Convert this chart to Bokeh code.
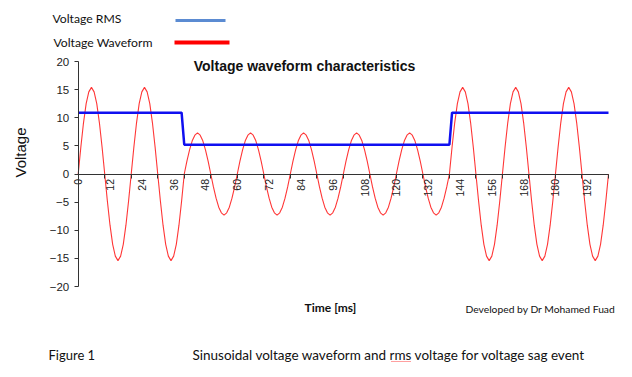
import math
from bokeh.plotting import figure
from bokeh.models import (Range1d, LinearAxis, FixedTicker, Label, Arrow,
                          ColumnDataSource)
from bokeh.embed import file_html
from bokeh.resources import INLINE

# ---------------- data ----------------
# sampling instants of the waveform, 1 ms apart, 0..200 ms
time_ms = list(range(0, 201))
# instantaneous voltage, one row per 10 ms half cycle
voltage_waveform = (
    [0.0, 4.8, 9.1, 12.5, 14.6, 15.4, 14.6, 12.5, 9.1, 4.8] +
    [0.0, -4.8, -9.1, -12.5, -14.6, -15.4, -14.6, -12.5, -9.1, -4.8] +
    [0.0, 4.8, 9.1, 12.5, 14.6, 15.4, 14.6, 12.5, 9.1, 4.8] +
    [0.0, -4.8, -9.1, -12.5, -14.6, -15.4, -14.6, -12.5, -9.1, -4.8] +
    [0.0, 2.3, 4.3, 5.9, 6.9, 7.3, 6.9, 5.9, 4.3, 2.3] +
    [0.0, -2.3, -4.3, -5.9, -6.9, -7.3, -6.9, -5.9, -4.3, -2.3] +
    [0.0, 2.3, 4.3, 5.9, 6.9, 7.3, 6.9, 5.9, 4.3, 2.3] +
    [0.0, -2.3, -4.3, -5.9, -6.9, -7.3, -6.9, -5.9, -4.3, -2.3] +
    [0.0, 2.3, 4.3, 5.9, 6.9, 7.3, 6.9, 5.9, 4.3, 2.3] +
    [0.0, -2.3, -4.3, -5.9, -6.9, -7.3, -6.9, -5.9, -4.3, -2.3] +
    [0.0, 2.3, 4.3, 5.9, 6.9, 7.3, 6.9, 5.9, 4.3, 2.3] +
    [0.0, -2.3, -4.3, -5.9, -6.9, -7.3, -6.9, -5.9, -4.3, -2.3] +
    [0.0, 2.3, 4.3, 5.9, 6.9, 7.3, 6.9, 5.9, 4.3, 2.3] +
    [0.0, -2.3, -4.3, -5.9, -6.9, -7.3, -6.9, -5.9, -4.3, -2.3] +
    [0.0, 4.8, 9.1, 12.5, 14.6, 15.4, 14.6, 12.5, 9.1, 4.8] +
    [0.0, -4.8, -9.1, -12.5, -14.6, -15.4, -14.6, -12.5, -9.1, -4.8] +
    [0.0, 4.8, 9.1, 12.5, 14.6, 15.4, 14.6, 12.5, 9.1, 4.8] +
    [0.0, -4.8, -9.1, -12.5, -14.6, -15.4, -14.6, -12.5, -9.1, -4.8] +
    [0.0, 4.8, 9.1, 12.5, 14.6, 15.4, 14.6, 12.5, 9.1, 4.8] +
    [0.0, -4.8, -9.1, -12.5, -14.6, -15.4, -14.6, -12.5, -9.1, -4.8] +
    [0.0]
)
# RMS voltage: breakpoints of the step (sag from ~40 ms to ~140 ms)
rms_time_ms = [0, 39, 40, 140, 141, 200]
rms_voltage = [10.9, 10.9, 5.2, 5.2, 10.9, 10.9]

x_tick_marks = [0, 10, 20, 30, 40, 50, 60, 70, 80, 90, 100,
                110, 120, 130, 140, 150, 160, 170, 180, 190, 200]
x_tick_labels = [0, 12, 24, 36, 48, 60, 72, 84, 96, 108, 120,
                 132, 144, 156, 168, 180, 192]
y_ticks = [-20, -15, -10, -5, 0, 5, 10, 15, 20]

# ---------------- layout (pixel targets) ----------------
W, H = 616, 369
X0, X200 = 77.7, 608.0      # canvas x of t = 0 and t = 200
YP20, YM20 = 61.0, 286.0    # canvas y of +20 V and -20 V
kx = (X200 - X0) / 200.0
ky = (YM20 - YP20) / 40.0
y_zero = YP20 + 20 * ky

p = figure(width=W, height=H, output_backend="svg", toolbar_location=None,
           x_range=Range1d(-X0 / kx, (W - X0) / kx),
           y_range=Range1d(-(H - y_zero) / ky, y_zero / ky),
           min_border=0, min_border_left=0, min_border_right=0,
           min_border_top=0, min_border_bottom=0,
           background_fill_color="white", border_fill_color="white")
p.outline_line_color = None
p.grid.visible = False

AX = "#333333"
ARIAL = "Liberation Sans"
CAL = "Lato"

# y axis crossing at t = 0
ya = p.yaxis[0]
ya.fixed_location = 0
ya.bounds = (-20, 20)
ya.ticker = FixedTicker(ticks=y_ticks)
ya.axis_line_color = AX
ya.major_tick_line_color = AX
ya.major_tick_out = 4
ya.major_tick_in = 0
ya.minor_tick_line_color = None
ya.major_label_text_font = ARIAL
ya.major_label_text_font_size = "11.5px"
ya.major_label_text_color = "#222222"
ya.major_label_standoff = 5

# x axis (tick marks) at V = 0
xa = p.xaxis[0]
xa.fixed_location = 0
xa.bounds = (0, 200)
xa.ticker = FixedTicker(ticks=x_tick_marks)
xa.axis_line_color = AX
xa.axis_line_width = 1.2
xa.major_tick_line_color = AX
xa.major_tick_out = 4
xa.major_tick_in = 0
xa.minor_tick_line_color = None
xa.major_label_overrides = {t: "" for t in x_tick_marks}

# x axis (labels) at V = 0
xl = LinearAxis(fixed_location=0, bounds=(0, 200),
                ticker=FixedTicker(ticks=x_tick_labels))
xl.axis_line_color = None
xl.major_tick_line_color = None
xl.minor_tick_line_color = None
xl.major_tick_out = 0
xl.major_label_orientation = math.pi / 2
xl.major_label_standoff = 5
xl.major_label_text_font = ARIAL
xl.major_label_text_font_size = "10.5px"
xl.major_label_text_color = "#222222"
p.add_layout(xl, "below")

# data lines
wave_src = ColumnDataSource(dict(t=time_ms, v=voltage_waveform))
rms_src = ColumnDataSource(dict(t=rms_time_ms, v=rms_voltage))
p.line("t", "v", source=wave_src, line_color="#FF2020", line_width=1.1,
       line_alpha=0.9)
p.line("t", "v", source=rms_src, line_color="#1010F0", line_width=2.5)


# ---------------- texts (screen units, frame = whole canvas) ----------------
def sx(px):
    return px


def sy(py):
    return H - py


def label(txt, px, py, font, size, align="left", bold=False, angle=0,
          color="#111111"):
    p.add_layout(Label(x=sx(px), y=sy(py), x_units="screen", y_units="screen",
                       text=txt, text_font=font, text_font_size=size,
                       text_align=align, text_baseline="middle",
                       text_font_style="bold" if bold else "normal",
                       angle=angle, text_color=color))


label("Voltage waveform characteristics", 304, 65, ARIAL, "14px",
      align="center", bold=True)
label("Voltage", 20, 152, ARIAL, "15px", align="center", angle=math.pi / 2)
label("Time [ms]", 330, 307, CAL, "12px", align="center", bold=True)
label("Developed by Dr Mohamed Fuad", 465, 308, CAL, "10.3px")
label("Voltage RMS", 52, 18, CAL, "12.2px")
label("Voltage Waveform", 53, 42, CAL, "12.2px")
label("Figure 1", 48, 354, CAL, "13px")
label("Sinusoidal voltage waveform and rms voltage for voltage sag event",
      192, 354, CAL, "13.5px")


def seg(x0, y0, x1, y1, color, width, dash="solid"):
    p.add_layout(Arrow(end=None, start=None,
                       x_start=sx(x0), y_start=sy(y0),
                       x_end=sx(x1), y_end=sy(y1),
                       start_units="screen", end_units="screen",
                       line_color=color, line_width=width, line_dash=dash))


seg(175, 20, 225, 20, "#5B8BD2", 3)
seg(174, 42, 229, 42, "#FF0000", 4)
seg(391, 361, 410, 361, "#FF4040", 1.2, "1 1")

open("out.html", "w").write(file_html(p, INLINE))
